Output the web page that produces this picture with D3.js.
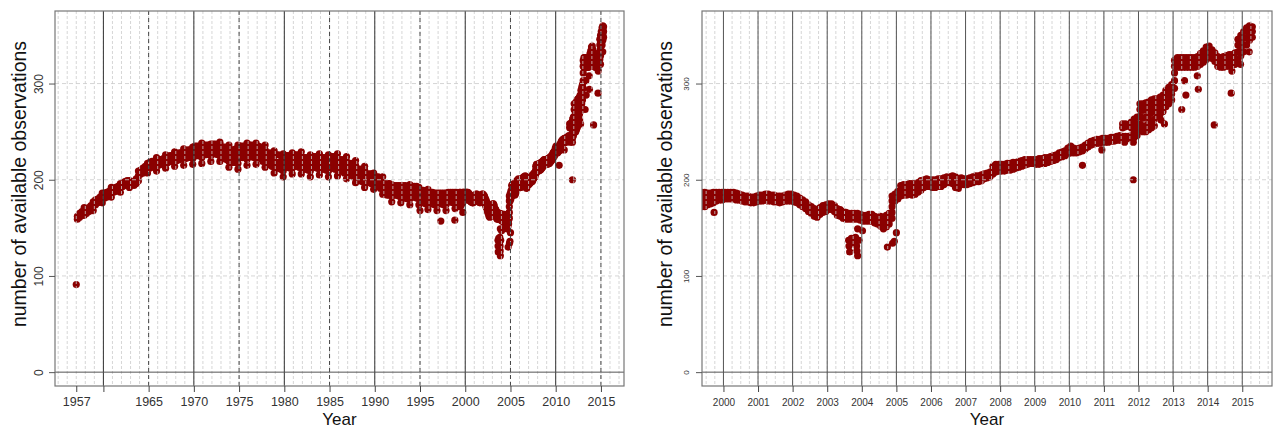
<!DOCTYPE html>
<html>
<head>
<meta charset="utf-8">
<script src="https://cdn.jsdelivr.net/npm/d3@7"></script>
<style>
  body { margin: 0; background: #fff; }
  svg { display: block; font-family: "Liberation Sans", Arial, Helvetica, sans-serif; }
</style>
</head>
<body>
<svg id="chart" width="1279" height="432"></svg>
<script>
// Number of available observations over time.
// Quarterly readings 1957-1998: one array per year, four quarter arrays each.
const quarterStartYear = 1957;
const countsByQuarter1957to1969 = [
  [[159,162],[161,165],[163,167],[163,168,171]],
  [[165,169],[167,171],[168,173],[168,174,177]],
  [[174,179],[176,180],[177,182],[176,181,186]],
  [[181,186],[182,187],[184,188],[182,187,192]],
  [[187,191],[188,192],[189,193],[187,192,196]],
  [[193,197],[194,198],[195,199],[192,196,199]],
  [[195,198],[194,197],[196,201],[199,204,209]],
  [[206,210],[207,212],[209,214],[207,212,217]],
  [[212,218],[213,219],[214,219],[209,214,219,223]],
  [[215,221],[216,221],[217,222],[212,217,222,226]],
  [[218,224],[219,225],[219,225],[214,219,224,229]],
  [[220,227],[221,228],[222,228],[215,221,227,232]],
  [[222,228],[223,229,231],[223,229,231],[216,222,228,234]]
];
const countsByQuarter1970s = [
  [[225,231,235],[225,231,235],[226,232,235],[217,223,229,235,238]],
  [[226,231,236],[226,231,236],[227,232,236],[219,225,231,237]],
  [[227,232,237],[227,232,237],[226,231,236],[219,225,231,237,239]],
  [[223,229,234],[222,228,234],[221,227,233],[213,219,225,231,236]],
  [[218,224,231],[218,224,231],[219,225,232],[211,217,223,229,236]],
  [[223,229,235],[223,229,235],[223,229,235],[215,221,227,233,238]],
  [[224,230,236],[224,230,236],[223,229,235],[216,222,228,234,238]],
  [[223,229,235],[222,228,234],[219,225,231],[213,219,225,231,236]],
  [[216,222,228],[216,222,228],[214,220,226],[207,213,219,225,230]],
  [[212,218,226],[212,218,226],[211,218,225],[203,209,215,221,227]]
];
const countsByQuarter1980s = [
  [[213,219,225],[213,219,225],[212,218,225],[206,212,218,224,228]],
  [[214,220,226],[214,220,226],[213,219,226],[206,212,218,224,229]],
  [[211,217,223],[211,217,223],[210,216,223],[203,209,215,221,226]],
  [[213,219,224],[213,219,224],[212,218,224],[205,211,217,223,227]],
  [[211,217,223],[211,217,223],[210,216,223],[203,209,215,221,226]],
  [[212,218,224],[212,218,224],[211,217,224],[204,210,216,222,227]],
  [[209,215,221],[209,215,221],[207,213,220],[201,207,213,219,224]],
  [[205,211,217],[205,211,217],[203,209,216],[197,203,209,215,220]],
  [[200,206,211],[199,205,211],[198,204,210],[192,198,204,210,214]],
  [[198,203,206],[197,202,206],[196,201,206],[190,196,202,207]]
];
const countsByQuarter1990to1998 = [
  [[194,199,203],[193,198,203],[191,196,201],[185,191,197,203]],
  [[185,190,196],[184,190,196],[184,190,196],[177,183,189,195]],
  [[184,189,194],[184,189,194],[183,188,194],[176,182,188,194]],
  [[181,187,194],[181,187,194],[180,186,193],[174,180,186,192,195]],
  [[182,188,193],[182,188,193],[181,187,193],[174,180,186,192]],
  [[176,182,189],[176,182,189],[175,181,188],[169,175,181,187,190]],
  [[175,181,187],[175,181,187],[174,180,186],[168,174,180,186]],
  [[175,181,186],[175,181,186],[174,180,186],[168,174,180,186]],
  [[177,182,187],[177,182,187],[176,181,187],[170,176,182,187]]
];

// Monthly readings from 1999 on: one array per year, one array per month.
const monthStartYear = 1999;
const countsByMonth1999to2004 = [
  [[175,181,187],[174,180,186],[174,180,186],[173,179,185],[172,178,184,187],[172,178,184,187],[174,180,186],[175,181,186],[176,182,187],[178,183,187],[179,184,187],[179,183,187]],
  [[180,183,187],[180,183,187],[180,184,187],[180,184,187],[179,183,186],[179,182,185],[178,181,184],[177,180,183],[177,180,183],[176,179,182],[176,179,182],[177,180,183]],
  [[178,181,184],[178,181,184],[179,182,185],[178,182,185],[178,181,184],[177,180,184],[177,180,183],[176,179,183],[177,180,183],[178,181,184],[178,182,185],[178,182,185]],
  [[177,180,184],[176,179,183],[174,177,181],[172,175,179],[170,173,177],[167,170,174],[165,168,172],[162,166,170],[161,165,169],[164,167,171],[166,169,173],[167,170,174]],
  [[169,172,175],[169,172,175],[167,170,173],[163,166,170],[162,165,169],[160,163,167],[159,162,166],[159,162,165],[159,162,165],[159,162,165],[159,162,165],[158,161,164]],
  [[157,160,163],[157,160,163],[157,160,164],[157,160,164],[155,158,162],[154,157,161],[152,156,159,162],[149,153,157,161],[151,155,159,163],[154,158,162,165],[160,166,172,178,183],[178,181,185]]
];
const countsByMonth2005to2009 = [
  [[180,184,188],[183,189,194],[184,190,195],[184,190,195],[185,191,196],[184,190,196],[185,191,196],[187,193,197],[189,195,199],[192,197,200],[193,198,201],[193,197,200]],
  [[192,197,200],[192,196,200],[193,197,201],[193,198,201],[195,199,202],[197,200,203],[197,201,203],[196,201,204],[192,198,203],[191,196,201],[195,199,202],[195,199,201]],
  [[195,198,201],[196,199,202],[197,200,203],[198,201,204],[198,201,204],[199,202,205],[201,204,206],[202,205,207],[203,206,208],[206,210,214],[208,212,216],[209,213,216]],
  [[209,213,216],[209,213,216],[210,214,217],[210,214,217],[211,215,218],[212,215,218],[213,216,219],[214,217,220],[215,218,221],[216,218,221],[217,219,221],[217,219,221]],
  [[216,219,221],[216,219,222],[217,220,222],[217,220,223],[218,221,223],[219,221,224],[220,222,225],[221,223,226],[223,225,228],[224,226,229],[225,227,230],[227,230,233]]
];
const countsByMonth2010to2015 = [
  [[228,231,235],[228,230,233],[228,230,232],[229,231,233],[230,232,234],[232,234,236],[234,236,238],[236,238,240],[237,239,241],[238,240,242],[238,240,242],[239,241,243]],
  [[239,241,243],[239,241,243],[240,242,244],[240,242,244],[241,243,245],[241,244,246],[242,245,254,258],[242,245,255,258],[243,245,256],[243,246,254,260],[244,250,256,263],[246,252,258,265]],
  [[252,258,266,273,279],[250,256,264,272,279],[250,256,265,273,280],[252,259,267,275,281],[254,261,270,277,283],[256,263,272,279,284],[266,272,278,284],[268,274,280,286],[271,277,283,288],[276,282,288,293],[279,285,291,296],[283,289,295,299]],
  [[295,303,311,318,324],[317,322,327],[317,322,327],[317,322,327],[317,322,327],[317,322,327],[317,322,327],[317,322,327],[318,323,328],[320,326,331],[322,328,334],[325,332,338]],
  [[328,334,339],[326,331,335],[323,328,332],[318,323,328],[317,322,327],[317,322,328],[318,323,329],[318,324,330],[319,325,330],[320,326,332],[325,333,340,346],[329,336,343,350]],
  [[333,340,347,354],[340,347,354,358],[345,351,357,360],[348,354,359]]
];

// Single readings away from the main band: [year, count]
const isolatedCounts = [
  [1957.0,91],[1995.0,168],[1997.3,157],[1998.85,158],[1999.73,166],
  [2003.62,137],[2003.63,131],[2003.65,125],[2003.70,139],[2003.78,134],[2003.82,140],
  [2003.85,131],[2003.86,126],[2003.88,121],[2003.92,137],[2003.88,149],[2004.02,147],
  [2004.74,130],[2004.89,134],[2004.94,136],[2005.0,145],
  [2010.38,215],[2010.94,231],[2011.6,239],[2011.85,239],[2011.85,200],
  [2012.65,262],[2012.75,258],
  [2013.25,273],[2013.33,303],[2013.37,288],[2013.7,308],[2013.73,294],
  [2014.19,257],[2014.68,290],[2014.7,313],[2014.95,320],[2015.2,333]
];

// Axis ticks and reference lines
const yTicks = [0, 100, 200, 300];
const leftAxisYears = [1957,1960,1965,1970,1975,1980,1985,1990,1995,2000,2005,2010,2015];
const leftAxisLabels = ["1957","","1965","1970","1975","1980","1985","1990","1995","2000","2005","2010","2015"];
const leftDecadeLines = [1960,1970,1980,1990,2000,2010];
const leftHalfDecadeLines = [1965,1975,1985,1995,2005,2015];
const rightAxisYears = [2000,2001,2002,2003,2004,2005,2006,2007,2008,2009,2010,2011,2012,2013,2014,2015];
const rightAxisLabels = rightAxisYears.map(String);

// ---- flatten the tables into [year, count] points ----
function fromQuarters(startYear, table) {
  const out = [];
  table.forEach((year, i) => year.forEach((vals, q) =>
    vals.forEach(v => out.push([startYear + i + (q + 0.5) / 4, v]))));
  return out;
}
function fromMonths(startYear, table) {
  const out = [];
  table.forEach((year, i) => year.forEach((vals, m) =>
    vals.forEach(v => out.push([startYear + i + (m + 0.5) / 12, v]))));
  return out;
}
const points = [].concat(
  fromQuarters(quarterStartYear, countsByQuarter1957to1969),
  fromQuarters(1970, countsByQuarter1970s),
  fromQuarters(1980, countsByQuarter1980s),
  fromQuarters(1990, countsByQuarter1990to1998),
  fromMonths(monthStartYear, countsByMonth1999to2004),
  fromMonths(2005, countsByMonth2005to2009),
  fromMonths(2010, countsByMonth2010to2015),
  isolatedCounts
);

const svg = d3.select("#chart");
const plotTop = 11, plotBottom = 386;
const y = d3.scaleLinear().domain([-14.4, 375.4]).range([plotBottom, plotTop]);

function drawPanel(cfg) {
  const x = d3.scaleLinear().domain(cfg.domain).range([cfg.left, cfg.right]);
  const g = svg.append("g");
  const clipId = "clip-" + cfg.id;
  svg.append("clipPath").attr("id", clipId)
    .append("rect").attr("x", cfg.left).attr("y", plotTop)
    .attr("width", cfg.right - cfg.left).attr("height", plotBottom - plotTop);

  const plot = g.append("g").attr("clip-path", `url(#${clipId})`);

  // observations
  plot.append("g").selectAll("circle").data(points).join("circle")
    .attr("cx", d => x(d[0])).attr("cy", d => y(d[1]))
    .attr("r", 3.6).attr("fill", "#8b0000");

  // fine vertical guides
  plot.append("g").selectAll("line").data(cfg.fineLines).join("line")
    .attr("x1", d => x(d)).attr("x2", d => x(d))
    .attr("y1", plotTop).attr("y2", plotBottom)
    .attr("stroke", "#cccccc").attr("stroke-width", 0.8)
    .attr("stroke-dasharray", "3,2");

  // horizontal guides
  plot.append("g").selectAll("line").data(yTicks.filter(v => v > 0)).join("line")
    .attr("x1", cfg.left).attr("x2", cfg.right)
    .attr("y1", d => y(d)).attr("y2", d => y(d))
    .attr("stroke", "#cccccc").attr("stroke-width", 0.8)
    .attr("stroke-dasharray", "4,3");

  // dashed major lines
  plot.append("g").selectAll("line").data(cfg.dashedLines).join("line")
    .attr("x1", d => x(d)).attr("x2", d => x(d))
    .attr("y1", plotTop).attr("y2", plotBottom)
    .attr("stroke", "#333").attr("stroke-width", 0.9)
    .attr("stroke-dasharray", "4,3");

  // solid major lines
  plot.append("g").selectAll("line").data(cfg.solidLines).join("line")
    .attr("x1", d => x(d)).attr("x2", d => x(d))
    .attr("y1", plotTop).attr("y2", plotBottom)
    .attr("stroke", cfg.solidColor).attr("stroke-width", 1);

  // zero line
  g.append("line")
    .attr("x1", cfg.left).attr("x2", cfg.right)
    .attr("y1", y(0)).attr("y2", y(0))
    .attr("stroke", "#555").attr("stroke-width", 1);

  // frame
  g.append("rect")
    .attr("x", cfg.left).attr("y", plotTop)
    .attr("width", cfg.right - cfg.left).attr("height", plotBottom - plotTop)
    .attr("fill", "none").attr("stroke", "#777").attr("stroke-width", 1.2);

  // x axis
  const xAxis = d3.axisBottom(x).tickValues(cfg.axisYears)
    .tickFormat((d, i) => cfg.axisLabels[i]).tickSize(6).tickPadding(cfg.xPad);
  const gx = g.append("g").attr("transform", `translate(0,${plotBottom})`).call(xAxis);
  gx.select(".domain").remove();
  gx.selectAll(".tick line").attr("stroke", "#444");
  gx.selectAll("text").attr("fill", "#333").style("font-size", cfg.xFont + "px")
    .style("font-family", "Liberation Sans, Arial, sans-serif");

  // y axis
  const yAxis = d3.axisLeft(y).tickValues(yTicks).tickFormat(d3.format("d")).tickSize(6);
  const gy = g.append("g").attr("transform", `translate(${cfg.left},0)`).call(yAxis);
  gy.select(".domain").remove();
  gy.selectAll(".tick line").attr("stroke", "#555");
  gy.selectAll("text")
    .attr("transform", "rotate(-90)")
    .attr("x", 0).attr("y", -cfg.yLabelGap).attr("dy", "0.35em")
    .attr("text-anchor", "middle").attr("fill", "#333")
    .style("font-size", cfg.yFont + "px")
    .style("font-family", "Liberation Sans, Arial, sans-serif");

  // titles
  g.append("text")
    .attr("x", (cfg.left + cfg.right) / 2).attr("y", 425)
    .attr("text-anchor", "middle").attr("fill", "#111")
    .style("font-size", "17px").text("Year");
  g.append("text")
    .attr("transform", `translate(${cfg.titleX},184) rotate(-90)`)
    .attr("text-anchor", "middle").attr("dy", "0.35em").attr("fill", "#111")
    .style("font-size", "19.5px").text("number of available observations");
}

drawPanel({
  id: "full", left: 55, right: 624, domain: [1954.65, 2017.55],
  fineLines: d3.range(1955, 2018),
  dashedLines: leftHalfDecadeLines, solidLines: leftDecadeLines, solidColor: "#333",
  axisYears: leftAxisYears, axisLabels: leftAxisLabels,
  xFont: 12.5, xPad: 5, yFont: 12, yLabelGap: 16, titleX: 19
});

drawPanel({
  id: "recent", left: 702, right: 1272, domain: [1999.38, 2015.86],
  fineLines: d3.range(1999.5, 2016, 0.25),
  dashedLines: [], solidLines: rightAxisYears, solidColor: "#555",
  axisYears: rightAxisYears, axisLabels: rightAxisLabels,
  xFont: 10, xPad: 7, yFont: 8, yLabelGap: 16, titleX: 665
});
</script>
</body>
</html>
